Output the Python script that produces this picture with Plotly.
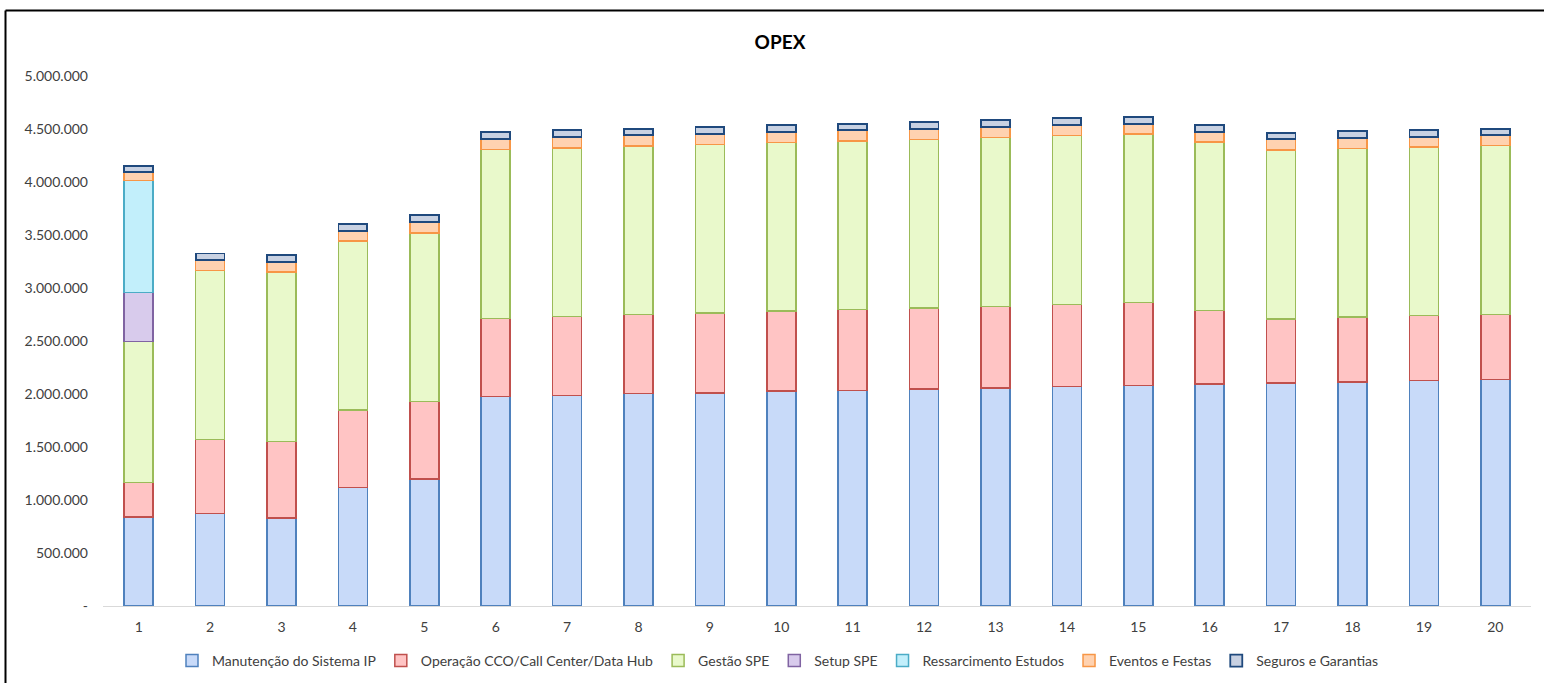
import plotly.graph_objects as go

# OPEX por ano (valores em R$)
anos = [str(i) for i in range(1, 21)]

manutencao = [842000, 871000, 830000, 1116000, 1198000, 1978000, 1988000, 2003000, 2009000, 2028000,
              2035000, 2047000, 2057000, 2072000, 2082000, 2094000, 2104000, 2113000, 2129000, 2139000]
operacao = [321000, 701000, 724000, 733000, 733000, 736000, 745000, 745000, 755000, 755000,
            764000, 764000, 770000, 774000, 780000, 692000, 604000, 613000, 613000, 609000]
gestao = [1330000, 1591000, 1597000, 1594000, 1588000, 1594000, 1588000, 1592000, 1591000, 1588000,
          1588000, 1592000, 1591000, 1591000, 1591000, 1591000, 1594000, 1588000, 1588000, 1598000]
setup = [463000] + [0] * 19
ressarcimento = [1056000] + [0] * 19
eventos = [80000, 98000, 97000, 98000, 101000, 98000, 100000, 100000, 101000, 101000,
           100000, 97000, 98000, 98000, 97000, 95000, 101000, 104000, 95000, 94000]
seguros = [62000, 64000, 63000, 66000, 66000, 66000, 66000, 63000, 66000, 66000,
           63000, 66000, 69000, 66000, 66000, 66000, 62000, 60000, 66000, 63000]

y_tick_vals = [0, 500000, 1000000, 1500000, 2000000, 2500000, 3000000, 3500000, 4000000, 4500000, 5000000]
y_tick_text = ["-", "500.000", "1.000.000", "1.500.000", "2.000.000", "2.500.000",
               "3.000.000", "3.500.000", "4.000.000", "4.500.000", "5.000.000"]

series = [
    ("Manutenção do Sistema IP", manutencao, "#c8daf9", "#4f81bd", 1.5),
    ("Operação CCO/Call Center/Data Hub", operacao, "#ffc4c4", "#c0504d", 1.5),
    ("Gestão SPE", gestao, "#e9f9cb", "#9bbb59", 1.5),
    ("Setup SPE", setup, "#d8cbec", "#8064a2", 1.5),
    ("Ressarcimento Estudos", ressarcimento, "#c2effb", "#4bacc6", 1.5),
    ("Eventos e Festas", eventos, "#ffd2b0", "#f79646", 1.5),
    ("Seguros e Garantias", seguros, "#c8d1e2", "#1f497d", 1.8),
]

FONT = "Lato, 'Open Sans', sans-serif"

fig = go.Figure()
for nome, valores, cor, borda, lw in series:
    fig.add_trace(go.Bar(
        x=anos, y=valores, name=nome,
        marker=dict(color=cor, line=dict(color=borda, width=lw)),
    ))

W, H = 1544, 683
L, R, T, B = 103, 13, 76, 77

fig.update_layout(
    width=W, height=H,
    barmode="stack", bargap=0.594,
    plot_bgcolor="white", paper_bgcolor="white",
    margin=dict(l=L, r=R, t=T, b=B, autoexpand=False),
    font=dict(family=FONT, size=14, color="#404040"),
    title=dict(text="<b>OPEX</b>", x=780 / W, xref="container", xanchor="center",
               y=1 - 42 / H, yref="container", yanchor="middle",
               font=dict(family=FONT, size=19, color="#000000")),
    xaxis=dict(showgrid=False, showline=True, linecolor="#d9d9d9", linewidth=1,
               ticks="", ticklabelstandoff=8, tickfont=dict(size=14, color="#404040")),
    yaxis=dict(range=[0, 5000000], showgrid=False, zeroline=False, showline=False,
               tickvals=y_tick_vals, ticktext=y_tick_text, ticks="",
               ticklabelstandoff=14, tickfont=dict(size=14, color="#404040")),
    legend=dict(orientation="h", x=(778 - L) / (W - L - R), xanchor="center",
                y=-(661 - 606) / (H - T - B), yanchor="middle",
                font=dict(size=14, color="#404040"), traceorder="normal",
                itemwidth=30),
    showlegend=True,
)

# moldura do gráfico (bordas superior e esquerda visíveis)
px_x = lambda p: (p - L) / (W - L - R)
px_y = lambda p: (H - B - p) / (H - T - B)
fig.add_shape(type="line", xref="paper", yref="paper",
              x0=px_x(5.5), x1=px_x(W), y0=px_y(10.5), y1=px_y(10.5),
              line=dict(color="#000000", width=2))
fig.add_shape(type="line", xref="paper", yref="paper",
              x0=px_x(5.5), x1=px_x(5.5), y0=px_y(10.5), y1=px_y(H + 5),
              line=dict(color="#000000", width=2))

fig.write_html("out.html")
